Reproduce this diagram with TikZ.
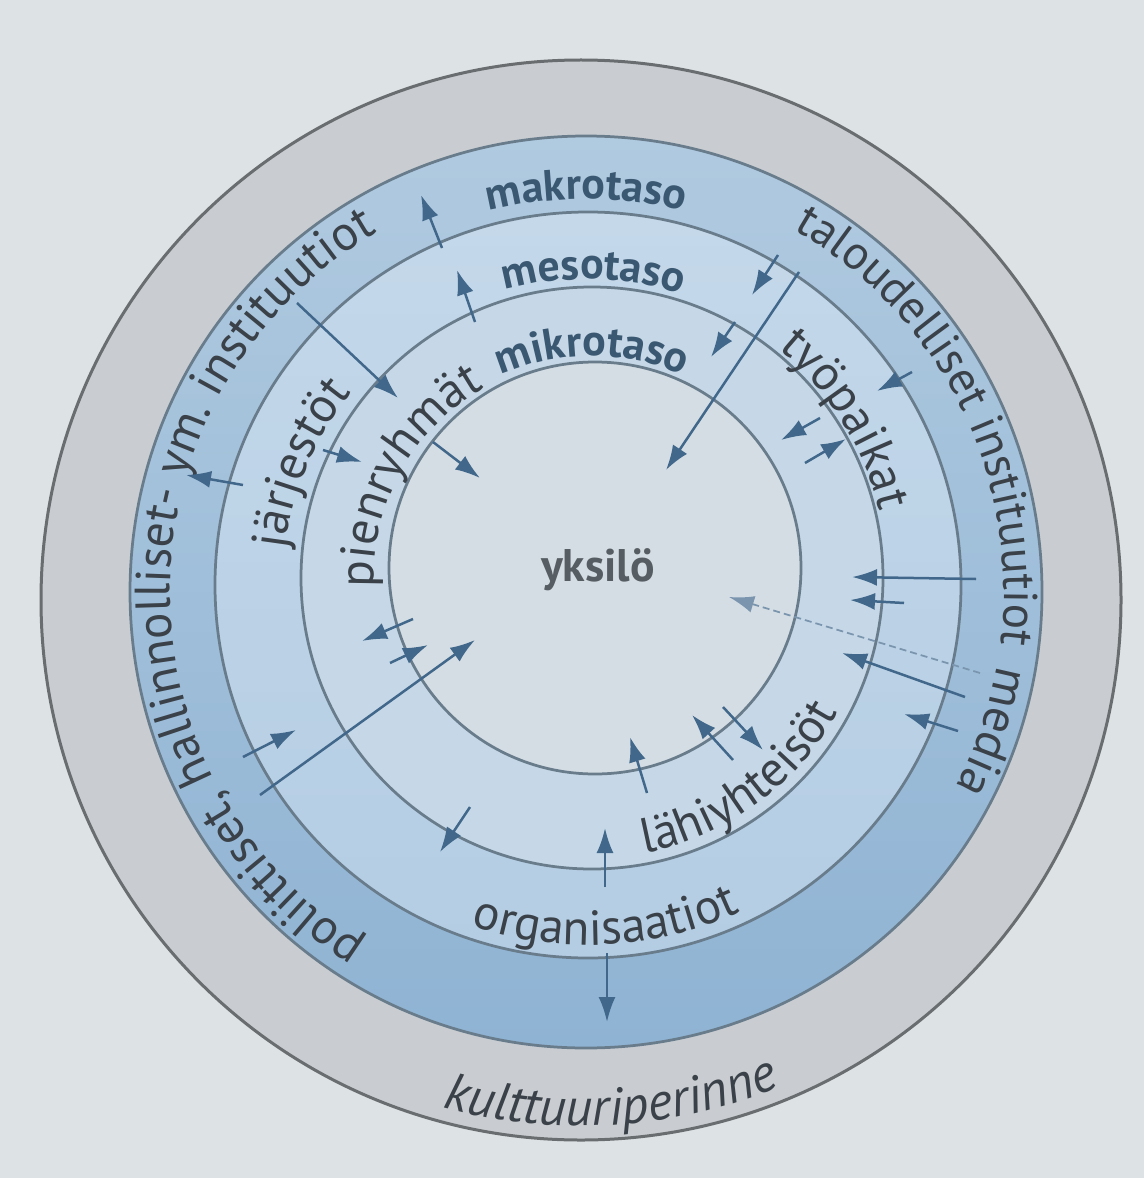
\documentclass[tikz,border=0pt]{standalone}
\usepackage{fontspec}
\setmainfont{PT Sans}
\usetikzlibrary{arrows.meta,decorations.text}

\definecolor{paper}{HTML}{DDE2E5}
\definecolor{culture}{HTML}{C9CDD1}
\definecolor{culturerim}{HTML}{6A6D70}
\definecolor{macrotop}{HTML}{B0CAE0}
\definecolor{macrobot}{HTML}{8FB3D3}
\definecolor{mesotop}{HTML}{C4D8EA}
\definecolor{mesobot}{HTML}{B4CDE3}
\definecolor{microfill}{HTML}{C6D8E8}
\definecolor{selffill}{HTML}{D5DDE4}
\definecolor{ringline}{HTML}{687C8C}
\definecolor{flowblue}{HTML}{41678A}
\definecolor{levelblue}{HTML}{3A5871}
\definecolor{labelgray}{HTML}{3A4148}

\newcommand\levelfont{\fontsize{25}{29}\selectfont\bfseries\color{levelblue}}
\newcommand\ringfont{\fontsize{28}{32}\selectfont\color{labelgray}}

\tikzset{
  ring/.style={draw=ringline, line width=0.55mm},
  flow/.style={draw=flowblue, line width=0.5mm, -{Latex[length=5mm,width=3.4mm]}},
  arclabel/.style={decorate, decoration={text along path, text align=center, text={#1}}},
}

\begin{document}
\begin{tikzpicture}[x=0.2mm, y=0.2mm]
  \fill[paper] (0,0) rectangle (1144,-1178);
  \useasboundingbox (0,0) rectangle (1144,-1178);

  % ring centres
  \coordinate (cO) at (581,-600);
  \coordinate (cB) at (586,-592);
  \coordinate (cM) at (588,-585);
  \coordinate (cm) at (592,-578);
  \coordinate (cI) at (595,-568);

  % rings
  \filldraw[fill=culture, draw=culturerim, line width=0.6mm] (cO) circle[radius=540];
  \shadedraw[ring, top color=macrotop, bottom color=macrobot] (cB) circle[radius=456];
  \shadedraw[ring, top color=mesotop, bottom color=mesobot] (cM) circle[radius=373];
  \filldraw[ring, fill=microfill] (cm) circle[radius=291];
  \filldraw[ring, fill=selffill] (cI) circle[radius=206];

  % level names
  \path[arclabel={|\levelfont|makrotaso}] (cB) ++(130:393) arc[start angle=130, end angle=50, radius=393];
  \path[arclabel={|\levelfont|mesotaso}] (cM) ++(129:306) arc[start angle=129, end angle=49, radius=306];
  \path[arclabel={|\levelfont|mikrotaso}] (cm) ++(135:222) arc[start angle=135, end angle=45, radius=222];

  % macro band
  \path[arclabel={|\ringfont|poliittiset, hallinnolliset- ym. instituutiot}] (cB) ++(265:416) arc[start angle=265, end angle=93, radius=416];
  \path[arclabel={|\fontsize{27}{31}\selectfont\color{labelgray}|taloudelliset instituutiot}] (cB) ++(76:418) arc[start angle=76, end angle=-23, radius=418];
  \path[arclabel={|\ringfont|media}] (cB) ++(1:418) arc[start angle=1, end angle=-39, radius=418];

  % meso band
  \path[arclabel={|\ringfont|järjestöt}] (cM) ++(187:305) arc[start angle=187, end angle=127, radius=305];
  \path[arclabel={|\ringfont|työpaikat}] (cm) ++(72:295) arc[start angle=72, end angle=-8, radius=295];
  \path[arclabel={|\ringfont|organisaatiot}] (cM) ++(228:360) arc[start angle=228, end angle=318, radius=360];

  % micro band
  \path[arclabel={|\ringfont|pienryhmät}] (cm) ++(196:218) arc[start angle=196, end angle=106, radius=218];
  \path[arclabel={|\ringfont|lähiyhteisöt}] (cm) ++(266:280) arc[start angle=266, end angle=346, radius=280];

  % outer band
  \path[arclabel={|\fontsize{30}{34}\selectfont\itshape\color{labelgray}|kulttuuriperinne}] (cO) ++(243:526) arc[start angle=243, end angle=304, radius=526];

  \node[font=\fontsize{26}{30}\selectfont\bfseries, text=labelgray!85] (self) at (598,-570) {yksilö};

  % influences between the levels
  \foreach \tx/\ty/\hx/\hy [count=\i] in {
      442/248/421/195, 475/322/457/270, 297/303/398/398, 323/450/362/462,
      433/442/480/478, 243/485/186/475, 778/255/752/295, 735/322/711/357,
      799/272/666/470, 912/372/877/391, 820/418/781/440, 805/463/846/439,
      976/579/852/577, 904/603/850/600, 965/697/842/653, 958/731/904/714,
      723/707/763/750, 733/760/692/715, 647/793/630/737, 605/887/605/828,
      607/953/607/1022, 470/807/440/852, 243/757/296/730, 260/795/475/640,
      413/619/362/641, 390/663/428/645} {
    \coordinate (t\i) at (\tx,-\ty);
    \coordinate (h\i) at (\hx,-\hy);
    \draw[flow] (t\i) -- (h\i);
  }
  \coordinate (mediatail) at (980,-673);
  \coordinate (mediahead) at (729,-597);
  \draw[flow, dash pattern=on 1.4mm off 0.8mm, line width=0.35mm, draw=flowblue!70] (mediatail) -- (mediahead);
\end{tikzpicture}
\end{document}
